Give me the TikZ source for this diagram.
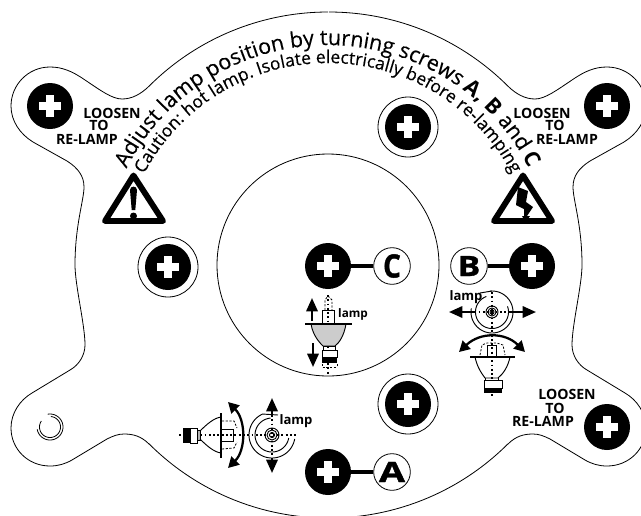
\documentclass[tikz,border=0pt]{standalone}
\usepackage{fontspec}
\setmainfont{Open Sans}
\newfontfamily\semifont[FakeBold=0.35]{Open Sans}
\newfontfamily\heavyfont[BoldFont={Open Sans Bold},BoldFeatures={FakeBold=1.2}]{Open Sans}
\usetikzlibrary{arrows.meta,decorations.text}
\newcommand{\garc}[5]{plot[domain=#4:#5,samples=80] ({#1+#3*cos(\x)},{#2+#3*sin(\x)})}
\newcommand{\halfoutline}{%
 \draw[outline] \garc{328}{265}{253}{270}{225}
  .. controls (141,94) and (132,99) .. (122,99)
  .. controls (112,99) and (100,90) .. (85,80)
  .. controls (72,71) and (62,67) .. (50,67)
  .. controls (28,67) and (11,85) .. (11,106)
  .. controls (11,121) and (20,134) .. (33,142)
  -- (67,161)
  .. controls (78,168) and (84,176) .. (84,187)
  .. controls (84,200) and (75,225) .. (75,265)
  .. controls (75,285) and (85,325) .. (85,345)
  .. controls (85,355) and (79,365) .. (70,370)
  -- (32,393)
  .. controls (20,400) and (11,413) .. (11,428)
  .. controls (11,449) and (28,466) .. (50,466)
  .. controls (58,466) and (65,464) .. (72,460)
  -- (107,439)
  .. controls (113,436) and (118,434) .. (124,434)
  .. controls (133,434) and (141,436) .. (149,444)
  -- plot[domain=135:90,samples=40] ({328+253*cos(\x)},{265+253*sin(\x)});}
\newcommand{\fa}{\fontsize{16.1}{16.1}\selectfont\semifont}
\newcommand{\fb}{\fontsize{16.1}{16.1}\selectfont\normalfont\bfseries}
\newcommand{\fc}{\fontsize{13.15}{13.15}\selectfont\semifont}
\tikzset{
 outline/.style={line width=0.6pt,black},
 thinline/.style={line width=0.6pt,black},
 screw/.style={circle,fill=black,inner sep=0pt,minimum size=34.5pt,
  path picture={
   \fill[white] ([xshift=-8.6pt,yshift=-3pt]path picture bounding box.center) rectangle ([xshift=8.6pt,yshift=3pt]path picture bounding box.center);
   \fill[white] ([xshift=-3pt,yshift=-8.6pt]path picture bounding box.center) rectangle ([xshift=3pt,yshift=8.6pt]path picture bounding box.center);}},
 ring/.style={circle,draw=black,line width=0.6pt,inner sep=0pt,minimum size=45pt},
 tag/.style={circle,draw=black,fill=white,line width=0.6pt,inner sep=0pt,minimum size=27.5pt,font=\fontsize{21}{21}\selectfont\heavyfont\bfseries},
 link/.style={line width=3pt,black},
 warn/.style={line width=4.4pt,line join=round,black},
 loosen/.style={inner sep=0pt,font=\fontsize{10.6}{10.6}\selectfont\bfseries},
 lamplabel/.style={inner sep=0pt,font=\fontsize{9.8}{10}\selectfont\bfseries},
 axisline/.style={line width=1.1pt,dash pattern=on 1.4pt off 1.8pt,black},
 dashbit/.style={line width=0.6pt,dash pattern=on 1.6pt off 1.2pt,black},
 part/.style={line width=0.7pt,black},
 bigarrow/.style={line width=1.7pt,black,{Triangle[width=8.5pt,length=8pt]}-{Triangle[width=8.5pt,length=8pt]}},
 onearrow/.style={line width=1.7pt,black,-{Triangle[width=8.5pt,length=10pt]}},
}
\begin{document}
\begin{tikzpicture}[x=0.75pt,y=-0.75pt]
\useasboundingbox (0,0) rectangle (641,515);
\begin{scope}
\clip (0,0) rectangle (641,515);
\halfoutline
\begin{scope}[shift={(657,0)},xscale=-1]
\halfoutline
\end{scope}
\end{scope}
% inner circle
\node[circle,draw=black,line width=0.6pt,inner sep=0pt,minimum size=166.5pt] (inner) at (328,265) {};
% hole
\draw[thinline] \garc{50}{427}{13}{-100}{170};
\draw[thinline] \garc{50}{427}{10.5}{-85}{215};
% ringed screws
\foreach \n/\p in {rT/{408,127},rL/{168,267},rB/{408,404}}{
 \node[ring] (\n) at (\p) {};
 \node[screw] (s\n) at (\p) {};
}
% plain screws
\node[screw] (sTL) at (50,106) {};
\node[screw] (sTR) at (607,106) {};
\node[screw] (sBR) at (607,427) {};
\node[screw] (sC) at (328,266) {};
\node[screw] (sB) at (532,266) {};
\node[screw] (sA) at (328,472) {};
\node[tag] (tC) at (392,266) {\scalebox{1}[1.15]{C}};
\node[tag] (tB) at (469,266) {\scalebox{1.2}[1]{B}};
\node[tag] (tA) at (392,472) {\scalebox{1.35}[1]{A}};
\draw[link] (sC) -- (tC);
\draw[link] (sB) -- (tB);
\draw[link] (sA) -- (tA);
% loosen labels
\node[loosen] (l1a) at (112,113) {LOOSEN};
\node[loosen] (l1b) at (99,125) {TO};
\node[loosen] (l1c) at (87,139) {RE-LAMP};
\node[loosen] (l2a) at (542,113) {LOOSEN};
\node[loosen] (l2b) at (555,125) {TO};
\node[loosen] (l2c) at (567,139) {RE-LAMP};
\node[loosen] (l3a) at (567,394) {LOOSEN};
\node[loosen] (l3b) at (555,408) {TO};
\node[loosen] (l3c) at (543,421) {RE-LAMP};
% curved text
\path[decorate,decoration={text along path,text align=center,
  text={|\fa|Adjust lamp position by turning screws |\fb|A, B |\fa|and |\fb|C}}]
  \garc{328}{271}{226}{195}{345};
\path[decorate,decoration={text along path,text align=center,
  text={|\fc|Caution: hot lamp. Isolate electrically before re-lamping}}]
  \garc{328}{271}{208}{195}{345};
% warning triangles
\draw[warn] (133.5,175.5) -- (105,221) -- (163,221) -- cycle;
\fill (130,190) .. controls (130,185.5) and (137,185.5) .. (137,190) -- (135.3,210) -- (131.7,210) -- cycle;
\fill (133.5,216) circle[radius=3.5];
\draw[warn] (523,175.5) -- (494,221) -- (552,221) -- cycle;
\fill (518,187) -- (528,191) -- (526,202) -- (533,207) -- (527,216) -- (530,216) -- (525.5,223) -- (522,216) -- (524,216) -- (524,209) -- (516,205) -- cycle;
% lamp C
\draw[axisline] (328,295) -- (328,375);
\draw[part] (322.5,323) -- (322.5,310) -- (334.5,310) -- (334.5,323);
\draw[dashbit] (325,310) -- (325,300) -- (328,296) -- (332,300) -- (332,310);
\draw[part,fill=black!20] (311,324) .. controls (313,336) and (320,343) .. (323,346) -- (335,346) .. controls (339,343) and (344,336) .. (346,324) -- cycle;
\draw[line width=0.9pt] (305,324) -- (352,324);
\draw[part] (323,346) rectangle (335,350);
\draw[part,fill=white] (322,350) rectangle (337,357);
\fill (322,357) rectangle (337,363);
\draw[dashbit] (322,364) -- (322,367) -- (337,367) -- (337,364);
\draw[onearrow] (312,321) -- (312,298);
\draw[onearrow] (313,343) -- (313,367);
\node[lamplabel,font=\fontsize{8.8}{9}\selectfont\bfseries] (lampC) at (353,314) {lamp};
% lamp B
\draw[part] (480,293) -- (492,291);
\draw[part] \garc{492}{312}{21}{-95}{190};
\draw[part] \garc{492}{312}{16.5}{-20}{250};
\draw[part] (492,312) circle[radius=6];
\draw[part] (492,312) circle[radius=4];
\draw[part] (492,312) circle[radius=2];
\draw[axisline] (492,292) -- (492,398);
\draw[axisline] (470,312) -- (515,312);
\draw[onearrow] (475,312) -- (449,312);
\draw[onearrow] (510,312) -- (536,312);
\node[lamplabel] (lampB) at (466,297) {lamp};
\draw[bigarrow] (459,352) .. controls (480,332) and (505,332) .. (525,352);
\draw[dashbit] (480,355) -- (482,345) -- (487,343) -- (497,343) -- (503,345) -- (505,355);
\draw[part] (487,357) -- (487,345) -- (496,345) -- (496,357);
\draw[line width=0.9pt] (470,357) -- (515,357);
\draw[part] (475,357) .. controls (477,367) and (482,374) .. (485,378) -- (498,378) .. controls (503,374) and (508,367) .. (510,357);
\draw[part,fill=white] (484,380) rectangle (502,388);
\fill (484,388) rectangle (502,393);
\draw[part] (485,378) -- (485,380);
\draw[part] (498,378) -- (498,380);
% lamp A
\draw[axisline] (179,435) -- (298,435);
\draw[part,fill=white] (190,428) rectangle (197,443);
\fill (183,428) rectangle (190,443);
\draw[part,fill=black!30] (197,430) rectangle (200,440);
\draw[part] (200,431) .. controls (207,424) and (214,418) .. (221,417);
\draw[part] (200,439) .. controls (207,446) and (214,452) .. (221,453);
\draw[line width=0.9pt] (221,413) -- (221,458);
\draw[part] (221,429) -- (233,429) -- (233,441) -- (221,441);
\draw[dashbit] (222,421) -- (234,421) -- (237,428);
\draw[dashbit] (222,449) -- (234,448) -- (237,442);
\draw[bigarrow] (228,402) .. controls (246,420) and (246,450) .. (228,468);
\draw[part] (278,415) -- (262,414);
\draw[part] \garc{272}{435}{23}{-115}{-350};
\draw[part] \garc{272}{435}{17}{-95}{-350};
\draw[part] (272,435) circle[radius=7];
\draw[part] (272,435) circle[radius=5];
\draw[part] (272,435) circle[radius=2.5];
\draw[axisline] (272,415) -- (272,458);
\draw[onearrow] (272,415) -- (272,398);
\draw[onearrow] (272,458) -- (272,473);
\node[lamplabel] (lampA) at (296,421) {lamp};
\end{tikzpicture}
\end{document}
